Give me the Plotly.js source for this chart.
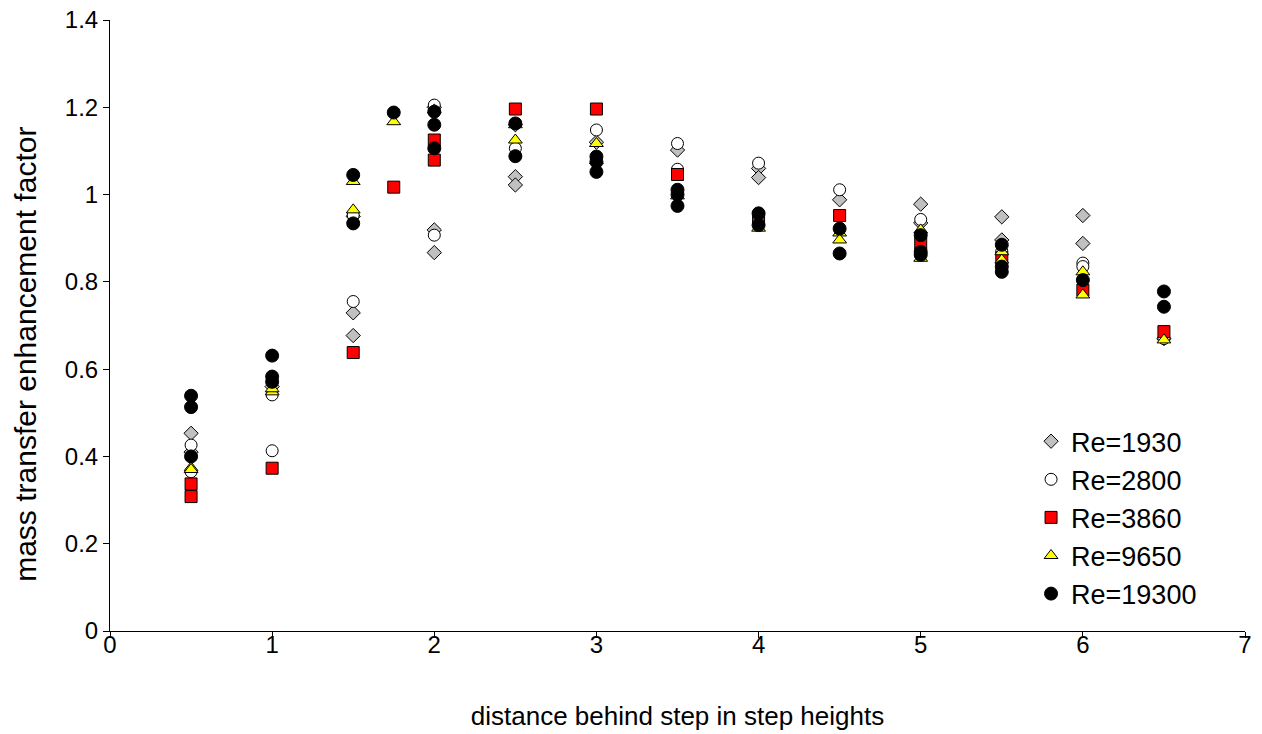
<!DOCTYPE html>
<html>
<head>
<meta charset="utf-8">
<script src="https://cdn.plot.ly/plotly-3.0.1.min.js"></script>
<style>html,body{margin:0;padding:0;background:#fff;}#chart{width:1262px;height:734px;}</style>
</head>
<body>
<div id="chart"></div>
<script>
// Re=1930 (grey diamonds)
const x1930 = [0.5, 0.5, 1, 1.5, 1.5, 1.5, 2, 2, 2, 2.5, 2.5, 2.5, 3, 3.5, 4, 4, 4.5, 5, 5, 5.5, 5.5, 6, 6, 6.5];
const y1930 = [0.453, 0.41, 0.56, 0.729, 0.677, 0.95, 0.919, 0.867, 1.2, 1.041, 1.022, 1.16, 1.12, 1.102, 1.06, 1.039, 0.988, 0.978, 0.935, 0.949, 0.896, 0.952, 0.888, 0.67];
// Re=2800 (open circles)
const x2800 = [0.5, 0.5, 1, 1, 1.5, 1.5, 2, 2, 2.5, 3, 3.5, 3.5, 4, 4.5, 5, 5.5, 6, 6, 6.5];
const y2800 = [0.426, 0.365, 0.541, 0.413, 0.755, 0.953, 0.907, 1.205, 1.106, 1.148, 1.117, 1.058, 1.072, 1.011, 0.943, 0.87, 0.843, 0.835, 0.67];
// Re=3860 (red squares)
const x3860 = [0.5, 0.5, 1, 1.5, 1.75, 2, 2, 2.5, 3, 3.5, 4, 4.5, 5, 5.5, 6, 6.5];
const y3860 = [0.337, 0.308, 0.373, 0.638, 1.017, 1.125, 1.079, 1.196, 1.196, 1.046, 0.946, 0.952, 0.888, 0.855, 0.781, 0.686];
// Re=9650 (yellow triangles)
const x9650 = [0.5, 0.5, 1, 1, 1.5, 1.5, 1.75, 2, 2.5, 2.5, 3, 3, 3.5, 4, 4.5, 4.5, 5, 5, 5.5, 5.5, 6, 6, 6.5];
const y9650 = [0.374, 0.37, 0.548, 0.555, 1.03, 0.965, 1.167, 1.194, 1.125, 1.16, 1.117, 1.078, 0.997, 0.923, 0.912, 0.896, 0.919, 0.854, 0.869, 0.85, 0.823, 0.77, 0.667];
// Re=19300 (black circles)
const x19300 = [0.5, 0.5, 0.5, 1, 1, 1, 1.5, 1.5, 1.75, 2, 2, 2, 2.5, 2.5, 3, 3, 3, 3.5, 3.5, 3.5, 4, 4, 4.5, 4.5, 5, 5, 5, 5.5, 5.5, 5.5, 6, 6.5, 6.5];
const y19300 = [0.539, 0.513, 0.40, 0.631, 0.583, 0.571, 1.045, 0.934, 1.188, 1.19, 1.16, 1.106, 1.163, 1.088, 1.087, 1.075, 1.052, 1.011, 1.0, 0.974, 0.957, 0.93, 0.922, 0.865, 0.907, 0.869, 0.862, 0.885, 0.835, 0.823, 0.804, 0.778, 0.743];

const seriesNames = ['Re=1930', 'Re=2800', 'Re=3860', 'Re=9650', 'Re=19300'];
const yTitle = 'mass transfer enhancement factor';

const line = {color: '#000000', width: 1};
const traces = [
  {x: x1930, y: y1930, name: seriesNames[0], mode: 'markers', type: 'scatter',
   marker: {symbol: 'diamond', size: 11, color: '#C0C0C0', line: line}},
  {x: x2800, y: y2800, name: seriesNames[1], mode: 'markers', type: 'scatter',
   marker: {symbol: 'circle', size: 12, color: '#FFFFFF', line: line}},
  {x: x3860, y: y3860, name: seriesNames[2], mode: 'markers', type: 'scatter',
   marker: {symbol: 'square', size: 12, color: '#FF0000', line: line}},
  {x: x9650, y: y9650, name: seriesNames[3], mode: 'markers', type: 'scatter',
   marker: {symbol: 'triangle-up', size: 12, color: '#FFFF00', line: line}},
  {x: x19300, y: y19300, name: seriesNames[4], mode: 'markers', type: 'scatter',
   marker: {symbol: 'circle', size: 13, color: '#000000', line: line}}
];

const layout = {
  width: 1262, height: 734,
  margin: {l: 110, r: 17, t: 20, b: 103},
  paper_bgcolor: '#FFFFFF', plot_bgcolor: '#FFFFFF',
  font: {family: 'Liberation Sans, Arial, sans-serif', size: 24, color: '#000000'},
  xaxis: {
    range: [0, 7], dtick: 1, tick0: 0, showgrid: false, zeroline: false,
    showline: true, linecolor: '#000000', linewidth: 1,
    ticks: 'outside', ticklen: 6, tickcolor: '#000000',
    tickfont: {size: 24}, ticklabelstandoff: -14,
    title: {text: 'distance behind step in step heights', font: {size: 26}, standoff: 50}
  },
  yaxis: {
    range: [0, 1.4], dtick: 0.2, tick0: 0, showgrid: false, zeroline: false,
    showline: true, linecolor: '#000000', linewidth: 1,
    ticks: 'outside', ticklen: 6, tickcolor: '#000000',
    tickfont: {size: 24}
  },
  annotations: [{
    text: yTitle, textangle: -90, showarrow: false,
    xref: 'paper', yref: 'paper', x: 0, y: 0.452,
    xanchor: 'center', yanchor: 'middle', xshift: -84,
    font: {size: 30, color: '#000000'}
  }],
  legend: {
    x: 0.8115, y: 0.35, xanchor: 'left', yanchor: 'top',
    font: {size: 27}, bgcolor: 'rgba(0,0,0,0)', borderwidth: 0,
    itemsizing: 'trace'
  },
  showlegend: true
};

Plotly.newPlot('chart', traces, layout, {displayModeBar: false, staticPlot: true});
</script>
</body>
</html>
